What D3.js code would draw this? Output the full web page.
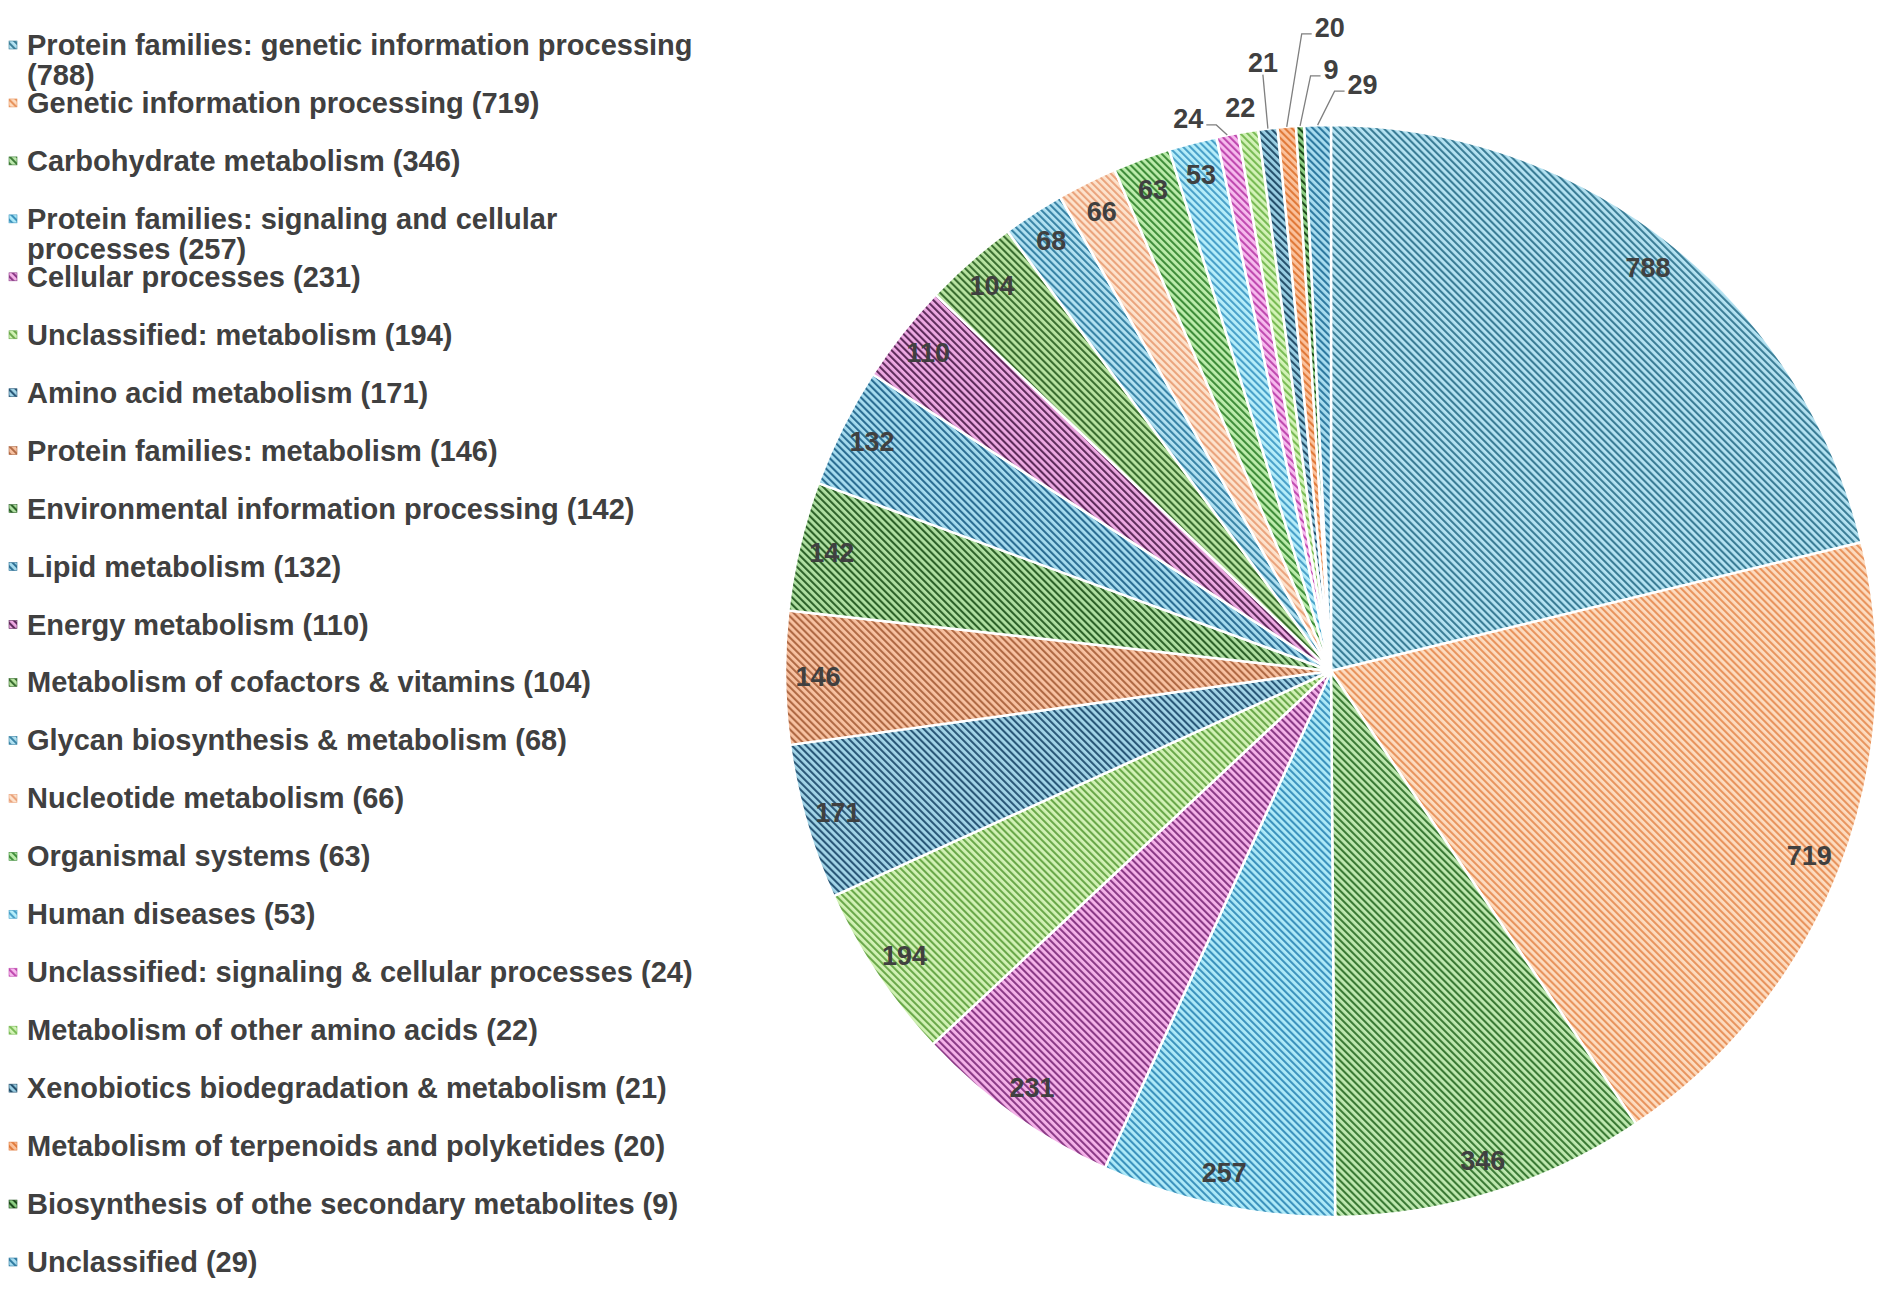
<!DOCTYPE html>
<html>
<head>
<meta charset="utf-8">
<script src="https://cdn.jsdelivr.net/npm/d3@7.9.0/dist/d3.min.js"></script>
<style>
  html, body { margin: 0; padding: 0; background: #fff; }
  svg { display: block; font-family: "Liberation Sans", Arial, sans-serif; }
</style>
</head>
<body>
<svg id="chart" width="1902" height="1295"></svg>
<script>
// KEGG category counts, clockwise from 12 o'clock
const categories = [
  'Protein families: genetic information processing',
  'Genetic information processing',
  'Carbohydrate metabolism',
  'Protein families: signaling and cellular processes',
  'Cellular processes',
  'Unclassified: metabolism',
  'Amino acid metabolism',
  'Protein families: metabolism',
  'Environmental information processing',
  'Lipid metabolism',
  'Energy metabolism',
  'Metabolism of cofactors & vitamins',
  'Glycan biosynthesis & metabolism',
  'Nucleotide metabolism',
  'Organismal systems',
  'Human diseases',
  'Unclassified: signaling & cellular processes',
  'Metabolism of other amino acids',
  'Xenobiotics biodegradation & metabolism',
  'Metabolism of terpenoids and polyketides',
  'Biosynthesis of othe secondary metabolites',
  'Unclassified'
];
const counts = [788, 719, 346, 257, 231, 194, 171, 146, 142, 132, 110, 104, 68, 66, 63, 53, 24, 22, 21, 20, 9, 29];

// hatch colours: [background, stripe]
const hatch = [
  ['#b5e3f2', '#3b7d96'], ['#fddcc0', '#e8945e'], ['#bfe9b0', '#3b7a35'],
  ['#aeeaf8', '#3d93bd'], ['#f6b3ea', '#8a3a86'], ['#d2f2b5', '#6aa84a'],
  ['#a3d5e8', '#2a5878'], ['#f8c2a2', '#b06a45'], ['#b0e0a2', '#2d6229'],
  ['#a6dcef', '#2c6e93'], ['#eeaae3', '#5e2b5b'], ['#b9e4a2', '#3a6e30'],
  ['#b2e2f2', '#3a84a6'], ['#fde3cd', '#eaa47d'], ['#bdedac', '#3f8d3a'],
  ['#b6eefa', '#4aa1c9'], ['#f7bbee', '#c04bb0'], ['#d4f3b8', '#79bb55'],
  ['#9acfe4', '#25506c'], ['#fbc29c', '#e07a3a'], ['#8fd085', '#1d4a1b'],
  ['#a8ddf0', '#2f7aa0']
];

const data = categories.map((name, i) => ({ name, value: counts[i], i }));

const svg = d3.select('#chart');
const textColor = '#404040';

// patterns
const defs = svg.append('defs');
const pats = defs.selectAll('pattern')
  .data(data)
  .join('pattern')
  .attr('id', d => 'hatch' + d.i)
  .attr('patternUnits', 'userSpaceOnUse')
  .attr('width', 5)
  .attr('height', 5)
  .attr('patternTransform', 'rotate(-45)');
pats.append('rect')
  .attr('width', 5).attr('height', 5)
  .attr('fill', d => hatch[d.i][0]);
pats.append('rect')
  .attr('width', 2.1).attr('height', 5)
  .attr('fill', d => hatch[d.i][1]);

// pie
const cx = 1331, cy = 671, R = 546;
const pie = d3.pie().value(d => d.value).sort(null);
const arcs = pie(data);
const arc = d3.arc().innerRadius(0).outerRadius(R);
const labelArc = d3.arc().innerRadius(513).outerRadius(513);

const g = svg.append('g').attr('transform', `translate(${cx},${cy})`);

g.selectAll('path.slice')
  .data(arcs)
  .join('path')
  .attr('class', 'slice')
  .attr('d', arc)
  .attr('fill', d => `url(#hatch${d.data.i})`)
  .attr('stroke', '#fff')
  .attr('stroke-width', 2.5)
  .attr('stroke-linejoin', 'round');

// small slices get outside labels with leader lines (offset from slice edge)
const outside = { 16: [-39, -16], 17: [-8, -23], 18: [-5, -66], 19: [43, -99], 20: [31, -56], 21: [45, -40] };
const edgeArc = d3.arc().innerRadius(R).outerRadius(R);

const labels = g.append('g')
  .attr('font-size', 27)
  .attr('font-weight', 'bold')
  .attr('fill', textColor)
  .attr('text-anchor', 'middle');

arcs.forEach(a => {
  const i = a.data.i;
  if (outside[i]) {
    const [ex, ey] = edgeArc.centroid(a);
    const lx = ex + outside[i][0], ly = ey + outside[i][1];
    const t = labels.append('text')
      .attr('x', lx).attr('y', ly)
      .attr('dominant-baseline', 'central')
      .text(a.data.value);
    const w = t.node().getComputedTextLength();
    const dx = ex - lx;
    let pts;
    if (Math.abs(dx) > w / 2 + 4) {
      const side = dx > 0 ? 1 : -1;
      const sx = lx + side * (w / 2 + 3);
      const sy = ly + 6;
      pts = [[sx, sy], [sx + side * 10, sy], [ex, ey]];
    } else if (ey - ly > 30) {
      pts = [[lx, ly + 12], [ex, ey]];
    }
    if (pts) {
      g.append('path')
        .attr('d', d3.line()(pts))
        .attr('fill', 'none')
        .attr('stroke', '#7f7f7f')
        .attr('stroke-width', 1.3);
    }
  } else {
    const [x, y] = labelArc.centroid(a);
    labels.append('text')
      .attr('x', x).attr('y', y)
      .attr('dominant-baseline', 'central')
      .text(a.data.value);
  }
});

// legend
const ly = d3.scalePoint().domain(d3.range(data.length)).range([45, 1262]);
const legend = svg.append('g')
  .attr('font-size', 29)
  .attr('font-weight', 'bold')
  .attr('fill', textColor);

const maxW = 675;
data.forEach(d => {
  const y = ly(d.i);
  legend.append('rect')
    .attr('x', 9).attr('y', y - 4)
    .attr('width', 8).attr('height', 8)
    .attr('fill', `url(#hatch${d.i})`)
    .attr('stroke', hatch[d.i][1])
    .attr('stroke-width', 0.6);
  const text = legend.append('text')
    .attr('x', 27).attr('y', y)
    .attr('dominant-baseline', 'central');
  const words = `${d.name} (${d.value})`.split(' ');
  let line = [];
  let tspan = text.append('tspan').attr('x', 27).attr('y', y);
  let lineNo = 0;
  words.forEach(w => {
    line.push(w);
    tspan.text(line.join(' '));
    if (tspan.node().getComputedTextLength() > maxW && line.length > 1) {
      line.pop();
      tspan.text(line.join(' '));
      line = [w];
      lineNo++;
      tspan = text.append('tspan').attr('x', 27).attr('y', y + lineNo * 30).text(w);
    }
  });
});
</script>
</body>
</html>
